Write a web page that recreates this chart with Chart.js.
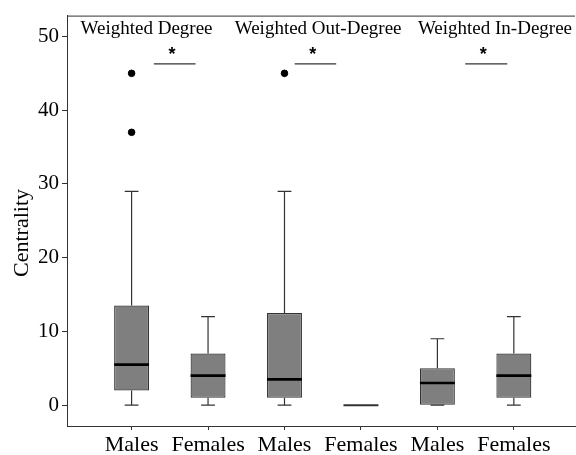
<!DOCTYPE html>
<html>
<head>
<meta charset="utf-8">
<script src="https://cdn.jsdelivr.net/npm/chart.js@4/dist/chart.umd.min.js"></script>
<style>
  html, body { margin: 0; padding: 0; background: #fff; overflow: hidden; }
  #wrap { width: 580px; height: 455px; }
</style>
</head>
<body>
<div id="wrap"><canvas id="chart"></canvas></div>
<script>
// categories along the x axis
const categories = ['Males', 'Females', 'Males', 'Females', 'Males', 'Females'];

// box plot statistics per category
const whiskerLow = [0, 0, 0, 0, 0, 0];
const q1 = [2, 1, 1, 0, 0, 1];
const median = [5.5, 4, 3.5, 0, 3, 4];
const q3 = [13.5, 7, 12.5, 0, 5, 7];
const whiskerHigh = [29, 12, 29, 0, 9, 12];

// outliers: category index (1-based) and value
const outlierCat = [1, 1, 3];
const outlierVal = [45, 37, 45];

const yTicks = [0, 10, 20, 30, 40, 50];

// panel headings and significance markers
const panelTitles = ['Weighted Degree', 'Weighted Out-Degree', 'Weighted In-Degree'];
const panelTitleX = [1.196, 3.44, 5.753];
const panelTitleY = 50.3;
const sigFrom = [1.291, 3.133, 5.364];
const sigTo = [1.836, 3.676, 5.914];
const sigStarX = [1.53, 3.37, 5.6];
const sigLineY = 46.27;
const sigStarY = 47.6;

const serif = '"Liberation Serif", "Times New Roman", serif';
const lineColor = '#333333';

const boxExtras = {
	id: 'boxExtras',
	afterDatasetsDraw(chart) {
		const { ctx, scales: { x, y }, chartArea } = chart;
		ctx.save();
		// top border of the panel
		ctx.strokeStyle = lineColor;
		ctx.lineWidth = 1;
		ctx.beginPath();
		ctx.moveTo(chartArea.left, chartArea.top + 0.5);
		ctx.lineTo(chartArea.right, chartArea.top + 0.5);
		ctx.stroke();

		const capHalf = 0.09;
		const boxHalf = 0.2285;
		categories.forEach((c, i) => {
			const cx = x.getPixelForValue(i + 1);
			ctx.strokeStyle = lineColor;
			ctx.lineWidth = 1.2;
			ctx.beginPath();
			// upper whisker
			if (whiskerHigh[i] > q3[i]) {
				ctx.moveTo(cx, y.getPixelForValue(q3[i]));
				ctx.lineTo(cx, y.getPixelForValue(whiskerHigh[i]));
			}
			// lower whisker
			if (whiskerLow[i] < q1[i]) {
				ctx.moveTo(cx, y.getPixelForValue(q1[i]));
				ctx.lineTo(cx, y.getPixelForValue(whiskerLow[i]));
			}
			// caps
			[whiskerLow[i], whiskerHigh[i]].forEach(v => {
				if (q3[i] === q1[i]) return;
				const py = y.getPixelForValue(v);
				ctx.moveTo(x.getPixelForValue(i + 1 - capHalf), py);
				ctx.lineTo(x.getPixelForValue(i + 1 + capHalf), py);
			});
			ctx.stroke();

			// median
			const my = y.getPixelForValue(median[i]);
			const flat = q3[i] === q1[i];
			ctx.strokeStyle = flat ? lineColor : '#000';
			ctx.lineWidth = flat ? 2 : 2.6;
			ctx.beginPath();
			ctx.moveTo(x.getPixelForValue(i + 1 - boxHalf), my);
			ctx.lineTo(x.getPixelForValue(i + 1 + boxHalf), my);
			ctx.stroke();
		});

		// panel titles
		ctx.fillStyle = '#000';
		ctx.font = '19px ' + serif;
		ctx.textAlign = 'center';
		ctx.textBaseline = 'alphabetic';
		panelTitles.forEach((t, i) => {
			ctx.fillText(t, x.getPixelForValue(panelTitleX[i]), y.getPixelForValue(panelTitleY));
		});

		// significance bars
		ctx.strokeStyle = lineColor;
		ctx.lineWidth = 1.2;
		sigFrom.forEach((f, i) => {
			const py = y.getPixelForValue(sigLineY);
			ctx.beginPath();
			ctx.moveTo(x.getPixelForValue(f), py);
			ctx.lineTo(x.getPixelForValue(sigTo[i]), py);
			ctx.stroke();
			ctx.font = 'bold 18px "Liberation Sans", Arial, sans-serif';
			ctx.textBaseline = 'middle';
			ctx.fillText('*', x.getPixelForValue(sigStarX[i]), y.getPixelForValue(sigStarY) + 1);
		});

		// y axis title
		ctx.font = '22px ' + serif;
		ctx.textBaseline = 'middle';
		ctx.translate(22, 233);
		ctx.rotate(-Math.PI / 2);
		ctx.fillText('Centrality', 0, 0);
		ctx.restore();
	}
};

new Chart(document.getElementById('chart'), {
	type: 'bar',
	data: {
		datasets: [{
			label: 'IQR',
			data: categories.map((c, i) => ({ x: i + 1, y: [q1[i], q3[i]] })),
			backgroundColor: '#7f7f7f',
			borderColor: lineColor,
			borderWidth: 1.2,
			borderSkipped: false,
			categoryPercentage: 1,
			barPercentage: 0.457,
			order: 2
		}, {
			type: 'scatter',
			label: 'Outliers',
			data: outlierCat.map((c, i) => ({ x: c, y: outlierVal[i] })),
			backgroundColor: '#000',
			borderColor: '#000',
			pointRadius: 3.3,
			order: 1
		}]
	},
	options: {
		responsive: true,
		maintainAspectRatio: false,
		animation: false,
		layout: { padding: { top: 13, right: 0, left: 0, bottom: 0 } },
		plugins: {
			legend: { display: false },
			tooltip: { enabled: false }
		},
		scales: {
			x: {
				type: 'linear',
				offset: false,
				min: 0.155,
				max: 6.8,
				afterBuildTicks: axis => {
					axis.ticks = categories.map((c, i) => ({ value: i + 1 }));
				},
				afterFit: axis => { axis.height = 29; },
				ticks: {
					callback: (v) => categories[v - 1],
					font: { family: serif, size: 22 },
					color: '#000',
					padding: 2,
					maxRotation: 0,
					autoSkip: false
				},
				grid: { offset: false, drawOnChartArea: false, tickLength: 4, tickColor: lineColor },
				border: { color: lineColor, width: 1 }
			},
			y: {
				min: -2.83,
				max: 52.83,
				afterBuildTicks: axis => {
					axis.ticks = yTicks.map(v => ({ value: v }));
				},
				afterFit: axis => { axis.width = 67; },
				ticks: {
					font: { family: serif, size: 21 },
					color: '#000',
					padding: 3
				},
				grid: { drawOnChartArea: false, tickLength: 5, tickColor: lineColor },
				border: { color: lineColor, width: 1 }
			}
		}
	},
	plugins: [boxExtras]
});
</script>
</body>
</html>
